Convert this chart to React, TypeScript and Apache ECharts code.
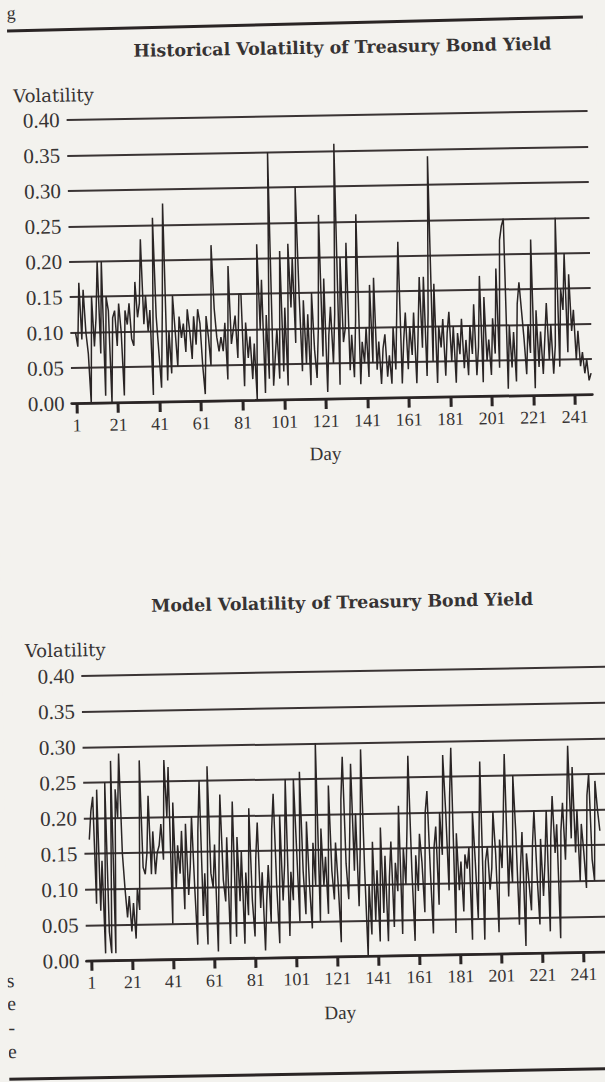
import React, { useEffect, useRef } from "react";
import * as echarts from "echarts";

// ---- data ----
const historicalVol: number[] = [
  0.10, 0.08, 0.17, 0.09, 0.16, 0.10, 0.07, 0.00, 0.15, 0.08,
  0.12, 0.20, 0.07, 0.20, 0.01, 0.15, 0.13, 0.00, 0.12, 0.13,
  0.08, 0.14, 0.10, 0.01, 0.13, 0.11, 0.14, 0.09, 0.08, 0.17,
  0.12, 0.14, 0.23, 0.11, 0.15, 0.10, 0.13, 0.01, 0.26, 0.12,
  0.07, 0.02, 0.13, 0.28, 0.03, 0.10, 0.04, 0.15, 0.10, 0.05,
  0.12, 0.09, 0.11, 0.07, 0.13, 0.10, 0.06, 0.12, 0.08, 0.13,
  0.11, 0.05, 0.01, 0.12, 0.09, 0.05, 0.22, 0.13, 0.09, 0.07,
  0.09, 0.07, 0.11, 0.03, 0.19, 0.08, 0.10, 0.12, 0.06, 0.15,
  0.15, 0.02, 0.11, 0.06, 0.09, 0.03, 0.08, 0.00, 0.22, 0.10,
  0.17, 0.01, 0.12, 0.03, 0.35, 0.02, 0.06, 0.10, 0.03, 0.21,
  0.04, 0.13, 0.02, 0.22, 0.13, 0.20, 0.08, 0.30, 0.15, 0.04,
  0.14, 0.05, 0.12, 0.02, 0.15, 0.07, 0.03, 0.10, 0.26, 0.06,
  0.17, 0.01, 0.09, 0.13, 0.05, 0.12, 0.36, 0.02, 0.20, 0.08,
  0.10, 0.22, 0.04, 0.09, 0.03, 0.11, 0.26, 0.02, 0.08, 0.05,
  0.10, 0.03, 0.16, 0.05, 0.17, 0.04, 0.08, 0.02, 0.07, 0.09,
  0.03, 0.06, 0.02, 0.10, 0.04, 0.13, 0.22, 0.02, 0.08, 0.12,
  0.04, 0.10, 0.06, 0.12, 0.02, 0.09, 0.17, 0.07, 0.17, 0.03,
  0.12, 0.34, 0.05, 0.16, 0.02, 0.10, 0.07, 0.11, 0.03, 0.09,
  0.12, 0.05, 0.10, 0.02, 0.09, 0.06, 0.11, 0.04, 0.08, 0.03,
  0.10, 0.06, 0.13, 0.03, 0.07, 0.17, 0.02, 0.14, 0.05, 0.08,
  0.03, 0.11, 0.06, 0.18, 0.04, 0.22, 0.24, 0.25, 0.01, 0.10,
  0.04, 0.09, 0.02, 0.13, 0.16, 0.12, 0.08, 0.03, 0.10, 0.06,
  0.22, 0.01, 0.12, 0.04, 0.09, 0.03, 0.08, 0.13, 0.05, 0.10,
  0.03, 0.07, 0.25, 0.04, 0.15, 0.12, 0.20, 0.06, 0.17, 0.09,
  0.12, 0.05, 0.09, 0.04, 0.06, 0.03, 0.05, 0.02, 0.03,
];

const modelVol: number[] = [
  0.17, 0.21, 0.23, 0.08, 0.24, 0.07, 0.14, 0.01, 0.25, 0.04,
  0.01, 0.28, 0.01, 0.24, 0.20, 0.29, 0.15, 0.10, 0.06, 0.09,
  0.04, 0.08, 0.03, 0.10, 0.07, 0.28, 0.13, 0.12, 0.15, 0.23,
  0.12, 0.18, 0.12, 0.15, 0.16, 0.19, 0.14, 0.28, 0.20, 0.27,
  0.05, 0.22, 0.10, 0.16, 0.12, 0.18, 0.07, 0.19, 0.09, 0.13,
  0.20, 0.10, 0.02, 0.18, 0.25, 0.06, 0.12, 0.02, 0.27, 0.12,
  0.10, 0.16, 0.01, 0.13, 0.23, 0.11, 0.08, 0.17, 0.02, 0.12,
  0.22, 0.03, 0.17, 0.08, 0.15, 0.02, 0.12, 0.06, 0.21, 0.08,
  0.03, 0.14, 0.19, 0.07, 0.12, 0.01, 0.08, 0.13, 0.05, 0.18,
  0.23, 0.10, 0.02, 0.20, 0.08, 0.13, 0.25, 0.03, 0.12, 0.08,
  0.25, 0.15, 0.05, 0.26, 0.12, 0.06, 0.19, 0.10, 0.04, 0.16,
  0.10, 0.30, 0.05, 0.18, 0.10, 0.14, 0.06, 0.24, 0.12, 0.08,
  0.16, 0.10, 0.02, 0.22, 0.28, 0.13, 0.08, 0.17, 0.27, 0.12,
  0.20, 0.07, 0.15, 0.29, 0.12, 0.00, 0.10, 0.03, 0.16, 0.05,
  0.12, 0.02, 0.18, 0.06, 0.14, 0.02, 0.11, 0.16, 0.04, 0.13,
  0.09, 0.21, 0.03, 0.15, 0.10, 0.18, 0.28, 0.12, 0.02, 0.14,
  0.09, 0.17, 0.13, 0.06, 0.20, 0.23, 0.12, 0.03, 0.15, 0.18,
  0.07, 0.20, 0.14, 0.28, 0.20, 0.09, 0.22, 0.29, 0.03, 0.17,
  0.09, 0.13, 0.06, 0.14, 0.12, 0.15, 0.02, 0.20, 0.13, 0.05,
  0.16, 0.27, 0.02, 0.13, 0.15, 0.09, 0.12, 0.20, 0.14, 0.03,
  0.16, 0.12, 0.19, 0.28, 0.08, 0.15, 0.10, 0.25, 0.17, 0.04,
  0.12, 0.17, 0.01, 0.14, 0.10, 0.06, 0.15, 0.20, 0.11, 0.04,
  0.16, 0.08, 0.13, 0.20, 0.03, 0.16, 0.22, 0.14, 0.18, 0.02,
  0.17, 0.21, 0.13, 0.20, 0.29, 0.16, 0.26, 0.14, 0.20, 0.10,
  0.18, 0.14, 0.09, 0.22, 0.25, 0.13, 0.10, 0.24, 0.20, 0.17,
];

const dayTicks: number[] = [1, 21, 41, 61, 81, 101, 121, 141, 161, 181, 201, 221, 241];
const chartTitles: string[] = [
  "Historical Volatility of Treasury Bond Yield",
  "Model Volatility of Treasury Bond Yield",
];
const yAxisLabel = "Volatility";
const xAxisLabel = "Day";

// ---- style ----
const FONT = "'Liberation Serif', 'Times New Roman', serif";
const WIDE_FONT = "'DejaVu Serif', serif";
const BG = "#f3f2ee";
const TEXT = "#363333";
const INK = "#2a2525";
const RULE = "#3a3434";

function makeXAxis(gridIndex: number, min: number, max: number) {
  return {
    gridIndex,
    type: "value",
    min,
    max,
    axisLine: { show: true, onZero: false, lineStyle: { color: INK, width: 2.5 } },
    axisTick: {
      show: true,
      customValues: dayTicks,
      length: 10,
      lineStyle: { color: INK, width: 3 },
    },
    axisLabel: {
      customValues: dayTicks,
      margin: 13,
      fontSize: 18,
      fontFamily: FONT,
      color: TEXT,
    },
    splitLine: { show: false },
  };
}

function makeYAxis(gridIndex: number) {
  return {
    gridIndex,
    type: "value",
    min: 0,
    max: 0.4,
    interval: 0.05,
    axisLine: { show: false },
    axisTick: { show: false },
    axisLabel: {
      formatter: (v: number) => v.toFixed(2),
      margin: 7,
      fontSize: 21,
      fontFamily: FONT,
      color: TEXT,
    },
    splitLine: { show: true, lineStyle: { color: RULE, width: 2 } },
  };
}

function makeSeries(idx: number, values: number[]) {
  return {
    type: "line",
    xAxisIndex: idx,
    yAxisIndex: idx,
    data: values.map((v, i) => [i + 1, v]),
    showSymbol: false,
    symbol: "none",
    lineStyle: { color: INK, width: 1.5 },
    z: 3,
  };
}

function txt(
  text: string,
  x: number,
  y: number,
  size: number,
  opts: { bold?: boolean; align?: string; family?: string } = {}
) {
  return {
    type: "text",
    x,
    y,
    silent: true,
    style: {
      text,
      fill: TEXT,
      font: `${opts.bold ? "bold " : ""}${size}px ${opts.family || FONT}`,
      textAlign: opts.align || "center",
      textVerticalAlign: "middle",
    },
  };
}

export default function App() {
  const ref = useRef<HTMLDivElement>(null);

  useEffect(() => {
    if (!ref.current) return;
    const chart = echarts.init(ref.current, undefined, { renderer: "svg" });
    chart.setOption({
      animation: false,
      backgroundColor: BG,
      textStyle: { fontFamily: FONT },
      grid: [
        { left: 74, top: 116, width: 521, height: 283.5, containLabel: false },
        { left: 79, top: 672, width: 531, height: 285, containLabel: false },
      ],
      xAxis: [makeXAxis(0, -1.5, 249.5), makeXAxis(1, -1.5, 255)],
      yAxis: [makeYAxis(0), makeYAxis(1)],
      series: [makeSeries(0, historicalVol), makeSeries(1, modelVol)],
      graphic: [
        {
          type: "line",
          silent: true,
          shape: { x1: 16, y1: 26, x2: 592, y2: 22 },
          style: { stroke: INK, lineWidth: 3 },
        },
        txt(chartTitles[0], 351, 48, 17.4, { bold: true, family: WIDE_FONT }),
        txt(yAxisLabel, 21, 91, 18, { align: "left", family: WIDE_FONT }),
        txt(xAxisLabel, 327, 454, 19),
        txt(chartTitles[1], 341, 603, 17.4, { bold: true, family: WIDE_FONT }),
        txt(yAxisLabel, 23, 646, 18, { align: "left", family: WIDE_FONT }),
        txt(xAxisLabel, 332, 1013, 19),
        {
          type: "line",
          silent: true,
          shape: { x1: -10, y1: 1074, x2: 620, y2: 1074 },
          style: { stroke: INK, lineWidth: 3 },
        },
        txt("g", 16, 8, 18, { align: "left" }),
        txt("s", -1, 975, 20, { align: "left" }),
        txt("e", -1, 998, 20, { align: "left" }),
        txt("-", 0, 1022, 20, { align: "left" }),
        txt("e", -1, 1046, 20, { align: "left" }),
      ],
    });
    return () => chart.dispose();
  }, []);

  return (
    <div
      style={{
        position: "fixed",
        left: 0,
        top: 0,
        width: 605,
        height: 1082,
        overflow: "hidden",
        background: BG,
      }}
    >
      <div
        ref={ref}
        style={{
          position: "absolute",
          left: 0,
          top: 0,
          width: 605,
          height: 1082,
          transform: "rotate(-1deg)",
          transformOrigin: "302.5px 541px",
        }}
      />
    </div>
  );
}
